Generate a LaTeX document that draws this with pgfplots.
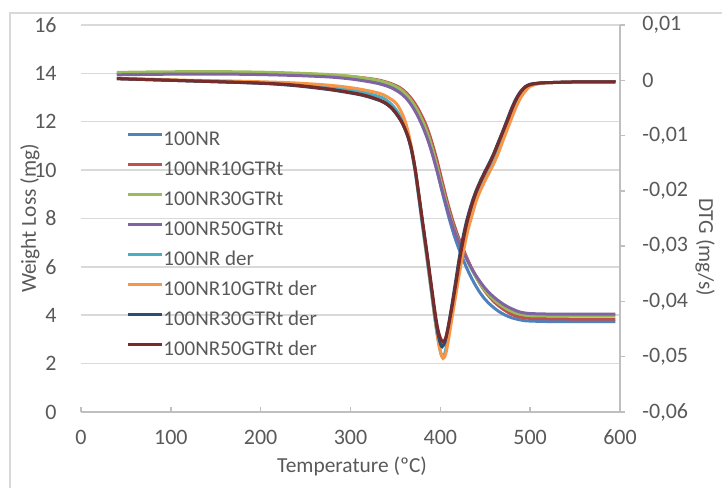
\documentclass[border=0pt]{standalone}
\usepackage{fontspec}
\setmainfont{Carlito}
\usepackage{pgfplots}
\pgfplotsset{compat=1.18}
\definecolor{cNR}{HTML}{4F81BD}
\definecolor{cNRa}{HTML}{C0504D}
\definecolor{cNRb}{HTML}{9BBB59}
\definecolor{cNRc}{HTML}{8064A2}
\definecolor{dNR}{HTML}{4BACC6}
\definecolor{dNRa}{HTML}{F79646}
\definecolor{dNRb}{HTML}{2C4D75}
\definecolor{dNRc}{HTML}{772C2A}
\definecolor{gridc}{HTML}{D9D9D9}
\definecolor{axisc}{HTML}{BFBFBF}
\definecolor{txt}{HTML}{595959}
\pgfplotsset{
  common/.style={
    at={(40.5bp,38bp)}, anchor=south west, scale only axis,
    width=269.5bp, height=193.5bp, xmin=0, xmax=600,
    scaled x ticks=false, scaled y ticks=false,
    tick label style={font=\fontsize{11bp}{13bp}\selectfont, text=txt},
    label style={font=\fontsize{10.7bp}{13bp}\selectfont, text=txt},
    /pgf/number format/assume math mode=true,
    major tick length=2.5bp,
    every axis plot/.append style={line width=1.5bp, smooth, tension=0.5},
  }
}
\begin{document}
\fontsize{10.5bp}{12bp}\selectfont
\begin{tikzpicture}
\useasboundingbox (0,0) rectangle (361bp,244bp);
\draw[color=gridc, line width=0.6bp] (5bp,-5bp) rectangle (366bp,237.5bp);
\begin{axis}[common,
  ymin=0, ymax=16, xtick={0,100,...,600}, ytick={0,2,...,16},
  axis x line*=bottom, axis y line*=left,
  x axis line style={draw=axisc, line width=0.75bp, -},
  y axis line style={draw=none},
  xtick align=inside, xtick style={draw=axisc, line width=0.75bp},
  ytick style={draw=none},
  ymajorgrids, grid style={draw=gridc, line width=0.75bp},
  xticklabel style={anchor=center, yshift=-12.5bp},
  yticklabel style={anchor=east, inner sep=0pt, xshift=-12bp},
  xlabel={Temperature (ºC)}, ylabel={Weight Loss (mg)},
  xlabel style={at={(axis description cs:0.503,-0.1395)}, anchor=center},
  ylabel style={at={(axis description cs:-0.0946,0.5)}, anchor=center},
]
% 100NR
\addplot[cNR] coordinates {(40,13.97)(80,13.99)(120,14.00)(160,14.00)(200,13.98)(240,13.94)(277,13.88)(300,13.81)(320,13.71)(333,13.61)(345,13.46)(355,13.25)(362,13.02)(368,12.74)(374,12.36)(380,11.89)(385,11.42)(390,10.84)(396,10.03)(401,9.27)(405,8.68)(410,7.98)(415,7.35)(420,6.81)(425,6.34)(430,5.90)(435,5.52)(440,5.18)(445,4.89)(450,4.65)(455,4.46)(460,4.30)(465,4.16)(470,4.05)(475,3.96)(480,3.89)(485,3.84)(490,3.80)(495,3.77)(500,3.76)(520,3.74)(560,3.74)(595,3.74)};
% 100NR10GTRt
\addplot[cNRa] coordinates {(40,14.00)(80,14.02)(120,14.03)(160,14.03)(200,14.01)(240,13.98)(277,13.93)(300,13.87)(320,13.79)(333,13.71)(345,13.58)(355,13.41)(362,13.20)(368,12.95)(374,12.62)(380,12.20)(385,11.78)(390,11.23)(396,10.45)(401,9.70)(405,9.10)(410,8.40)(415,7.78)(420,7.24)(425,6.78)(430,6.34)(435,5.93)(440,5.57)(445,5.25)(450,4.98)(455,4.75)(460,4.55)(465,4.39)(470,4.25)(475,4.13)(480,4.03)(485,3.96)(490,3.92)(495,3.89)(500,3.87)(510,3.86)(530,3.85)(560,3.84)(595,3.84)};
% 100NR30GTRt
\addplot[cNRb] coordinates {(40,14.04)(80,14.06)(120,14.07)(160,14.07)(200,14.05)(240,14.01)(277,13.95)(300,13.88)(320,13.78)(333,13.69)(345,13.55)(355,13.36)(362,13.13)(368,12.86)(374,12.50)(380,12.05)(385,11.60)(390,11.03)(396,10.22)(401,9.47)(405,8.90)(410,8.22)(415,7.62)(420,7.12)(425,6.68)(430,6.27)(435,5.89)(440,5.56)(445,5.27)(450,5.02)(455,4.81)(460,4.63)(465,4.48)(470,4.35)(475,4.24)(480,4.15)(485,4.08)(490,4.03)(495,4.00)(500,3.98)(520,3.97)(560,3.97)(595,3.97)};
% 100NR50GTRt
\addplot[cNRc] coordinates {(40,13.94)(80,13.96)(120,13.97)(160,13.97)(200,13.95)(240,13.91)(277,13.85)(300,13.77)(320,13.66)(333,13.56)(345,13.41)(355,13.20)(362,12.97)(368,12.68)(374,12.30)(380,11.83)(385,11.36)(390,10.80)(396,10.02)(401,9.30)(405,8.76)(410,8.12)(415,7.56)(420,7.08)(425,6.66)(430,6.28)(435,5.93)(440,5.62)(445,5.35)(450,5.11)(455,4.91)(460,4.74)(465,4.59)(470,4.46)(475,4.35)(480,4.26)(485,4.18)(490,4.12)(495,4.09)(500,4.07)(520,4.05)(560,4.05)(595,4.05)};
\end{axis}
\begin{axis}[common,
  ymin=-0.06, ymax=0.01,
  ytick={-0.06,-0.05,-0.04,-0.03,-0.02,-0.01,0,0.01},
  yticklabels={{-0,06},{-0,05},{-0,04},{-0,03},{-0,02},{-0,01},{0},{0,01}},
  axis x line=none, axis y line*=right,
  y axis line style={draw=axisc, line width=0.75bp, -},
  ytick align=outside, ytick style={draw=axisc, line width=0.75bp},
  yticklabel style={anchor=west, inner sep=0pt, xshift=8.5bp},
  ylabel={DTG (mg/s)},
  ylabel style={at={(axis description cs:1.158,0.426)}, anchor=center, rotate=180},
  legend style={at={(axis description cs:0.0835,0.725)}, anchor=north west,
    draw=none, fill=none, inner sep=0pt, row sep=6bp, column sep=0bp,
    font=\fontsize{10.5bp}{12bp}\selectfont, text=txt,
    nodes={inner sep=0pt, text height=7bp, text depth=2bp}},
  legend cell align=left,
  legend image code/.code={\draw[#1] (0bp,3.3bp) -- (17bp,3.3bp);},
]
\addlegendimage{cNR, line width=1.5bp}\addlegendentry{100NR}
\addlegendimage{cNRa, line width=1.5bp}\addlegendentry{100NR10GTRt}
\addlegendimage{cNRb, line width=1.5bp}\addlegendentry{100NR30GTRt}
\addlegendimage{cNRc, line width=1.5bp}\addlegendentry{100NR50GTRt}
% 100NR der
\addplot[dNR] coordinates {(40,0.0003)(80,0.0001)(120,-0.0001)(160,-0.0003)(207,-0.0005)(240,-0.0008)(277,-0.0012)(307,-0.0019)(333,-0.0030)(340,-0.0036)(346,-0.0044)(351,-0.0054)(356,-0.0067)(360,-0.0081)(364,-0.0100)(368,-0.0128)(372,-0.0166)(376,-0.0213)(380,-0.0262)(385,-0.0322)(390,-0.0383)(394,-0.0432)(397,-0.0465)(400,-0.0490)(402,-0.0500)(405,-0.0494)(408,-0.0470)(412,-0.0432)(417,-0.0383)(421,-0.0342)(425,-0.0306)(430,-0.0270)(435,-0.0238)(440,-0.0213)(445,-0.0193)(450,-0.0175)(455,-0.0159)(460,-0.0142)(465,-0.0123)(470,-0.0101)(475,-0.0080)(480,-0.0058)(485,-0.0039)(490,-0.0025)(495,-0.0015)(500,-0.0009)(510,-0.0005)(525,-0.0004)(550,-0.0003)(595,-0.0003)};
\addlegendentry{100NR der}
% 100NR10GTRt der
\addplot[dNRa] coordinates {(40,0.0003)(80,0.0002)(120,0.0000)(160,-0.0001)(207,-0.0003)(240,-0.0005)(277,-0.0009)(307,-0.0015)(333,-0.0024)(345,-0.0034)(351,-0.0042)(356,-0.0055)(360,-0.0070)(364,-0.0092)(368,-0.0122)(372,-0.0160)(376,-0.0207)(380,-0.0256)(385,-0.0317)(390,-0.0380)(394,-0.0430)(397,-0.0465)(400,-0.0490)(403,-0.0503)(406,-0.0495)(409,-0.0470)(413,-0.0430)(418,-0.0381)(422,-0.0342)(426,-0.0307)(430,-0.0276)(435,-0.0246)(440,-0.0218)(445,-0.0198)(450,-0.0181)(455,-0.0165)(460,-0.0149)(465,-0.0130)(470,-0.0108)(475,-0.0087)(480,-0.0066)(485,-0.0046)(490,-0.0030)(495,-0.0019)(500,-0.0011)(510,-0.0006)(525,-0.0004)(550,-0.0003)(595,-0.0003)};
\addlegendentry{100NR10GTRt der}
% 100NR30GTRt der
\addplot[dNRb] coordinates {(40,0.0003)(80,0.0001)(120,-0.0001)(160,-0.0003)(207,-0.0006)(240,-0.0010)(277,-0.0017)(307,-0.0025)(320,-0.0030)(333,-0.0037)(340,-0.0043)(346,-0.0051)(351,-0.0061)(356,-0.0073)(360,-0.0086)(364,-0.0103)(368,-0.0127)(372,-0.0162)(376,-0.0208)(380,-0.0256)(385,-0.0314)(390,-0.0376)(394,-0.0425)(397,-0.0456)(400,-0.0476)(402,-0.0482)(405,-0.0474)(408,-0.0452)(412,-0.0415)(417,-0.0364)(421,-0.0322)(425,-0.0286)(429,-0.0256)(434,-0.0227)(439,-0.0203)(444,-0.0184)(449,-0.0167)(454,-0.0151)(459,-0.0134)(464,-0.0114)(469,-0.0094)(474,-0.0073)(479,-0.0052)(484,-0.0034)(489,-0.0021)(494,-0.0012)(500,-0.0007)(510,-0.0005)(525,-0.0004)(550,-0.0003)(595,-0.0003)};
\addlegendentry{100NR30GTRt der}
% 100NR50GTRt der
\addplot[dNRc] coordinates {(40,0.0003)(80,0.0001)(120,-0.0001)(160,-0.0003)(207,-0.00055)(240,-0.0009)(277,-0.0016)(307,-0.0024)(320,-0.0029)(333,-0.0036)(340,-0.0042)(346,-0.0050)(351,-0.0060)(356,-0.0072)(360,-0.0085)(364,-0.0102)(368,-0.0125)(372,-0.0160)(376,-0.0205)(380,-0.0252)(385,-0.0310)(390,-0.0370)(394,-0.0418)(397,-0.0448)(400,-0.0466)(403,-0.0473)(406,-0.0466)(409,-0.0445)(413,-0.0410)(418,-0.0361)(422,-0.0320)(426,-0.0285)(430,-0.0255)(435,-0.0226)(440,-0.0202)(445,-0.0183)(450,-0.0166)(455,-0.0150)(460,-0.0132)(465,-0.0112)(470,-0.0092)(475,-0.0072)(480,-0.0051)(485,-0.0033)(490,-0.0020)(495,-0.0012)(500,-0.0008)(510,-0.0005)(525,-0.0004)(550,-0.0003)(595,-0.0003)};
\addlegendentry{100NR50GTRt der}
\end{axis}
\end{tikzpicture}
\end{document}
